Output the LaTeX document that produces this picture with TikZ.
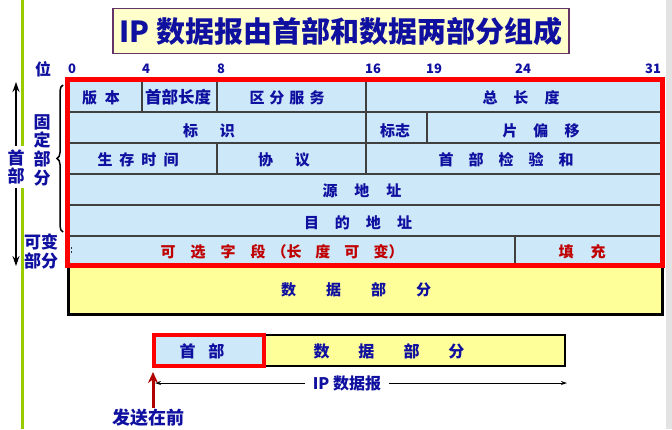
\documentclass[tikz,border=0pt]{standalone}
\usepackage{fontspec}
\setmainfont{Noto Sans CJK SC}
\usepackage{xcolor}
\usetikzlibrary{arrows.meta,decorations.pathreplacing}

\definecolor{txtblue}{RGB}{16,16,160}
\definecolor{txtred}{RGB}{192,0,0}
\definecolor{cellblue}{RGB}{204,232,249}
\definecolor{datayellow}{RGB}{255,255,153}
\definecolor{titleyellow}{RGB}{255,255,204}
\definecolor{titleframe}{RGB}{102,51,102}
\definecolor{slidegreen}{RGB}{153,204,0}
\definecolor{sendred}{RGB}{176,0,0}

% gap between spaced characters
\newcommand{\gp}[1]{\hspace{#1pt}}

\begin{document}
\begin{tikzpicture}[
    x=1pt, y=-1pt,
    title/.style={draw=titleframe, line width=1.2pt, fill=titleyellow,
                  minimum width=456pt, minimum height=45pt,
                  font=\fontsize{29}{32}\selectfont\bfseries, text=txtblue},
    field/.style={font=\fontsize{15}{18}\selectfont\bfseries, text=txtblue, inner sep=0pt},
    optfield/.style={field, text=txtred},
    bit/.style={font=\fontsize{13}{15}\selectfont\bfseries, text=txtblue, inner sep=0pt},
    side/.style={font=\fontsize{17}{18.7}\selectfont\bfseries, text=txtblue,
                 align=center, inner sep=0pt},
    sep/.style={line width=1.2pt, black!75},
    hdrframe/.style={draw=red, line width=5pt},
    sidearrow/.style={-{Stealth[length=10pt, width=7pt]}, line width=1.6pt},
    dimarrow/.style={-{Stealth[length=6pt, width=4pt]}, line width=0.9pt},
    sendarrow/.style={-{Stealth[length=11pt, width=10pt]}, line width=3pt, sendred}
]

\useasboundingbox (0,0) rectangle (672,429);

% -------------------------------------------------
% Slide decoration
% -------------------------------------------------

\draw[slidegreen, line width=3pt] (22.5,0) -- (22.5,429);
\fill[gray!22] (666,0) rectangle (672,429);

% -------------------------------------------------
% Title
% -------------------------------------------------

\node[title] (title) at (341,31) {IP 数据报由首部和数据两部分组成};

% -------------------------------------------------
% Bit positions
% -------------------------------------------------

\node[bit, font=\fontsize{16}{18}\selectfont\bfseries] (wei) at (43,69) {位};

\foreach \b/\x in {0/72,4/146,8/221,16/373,19/434,24/523,31/653}{
    \node[bit] (b\b) at (\x,69) {\b};
}

% -------------------------------------------------
% Data part
% -------------------------------------------------

\draw[fill=datayellow, line width=3pt] (68,265) rectangle (662,314);
\node[field] (data) at (356,290) {数\gp{30}据\gp{30}部\gp{30}分};

% -------------------------------------------------
% Header table
% -------------------------------------------------

\fill[cellblue] (67.5,79.5) rectangle (662.5,265);

\foreach \y in {112,143,174,205,236}{
    \draw[sep] (67.5,\y) -- (662.5,\y);
}

% row 1
\draw[sep] (142,79.5) -- (142,112);
\draw[sep] (217,79.5) -- (217,112);
\draw[sep] (366,79.5) -- (366,112);
% row 2
\draw[sep] (366,112) -- (366,143);
\draw[sep] (427,112) -- (427,143);
% row 3
\draw[sep] (217,143) -- (217,174);
\draw[sep] (366,143) -- (366,174);
% row 6
\draw[sep] (515,236) -- (515,265);

% vertical dots at the ends of the options row
\fill[black!80] (70.5,247) rectangle ++(1.6,1.6);
\fill[black!80] (70.5,251) rectangle ++(1.6,1.6);
\fill[black!80] (660,249) rectangle ++(1.6,1.6);
\fill[black!80] (660,253) rectangle ++(1.6,1.6);

\node[field] (ver)   at (101,97.5)  {版\gp{8}本};
\node[field, font=\fontsize{16.5}{18}\selectfont\bfseries]
             (ihl)   at (178,97.5)  {首部长度};
\node[field] (ds)    at (287,97.5)  {区\gp{5}分\gp{5}服\gp{5}务};
\node[field] (tlen)  at (521,97.5)  {总\gp{16}长\gp{16}度};

\node[field] (ident) at (209,130.5) {标\gp{22}识};
\node[field] (flag)  at (395,130.5) {标志};
\node[field] (frag)  at (541,130.5) {片\gp{16}偏\gp{16}移};

\node[field] (ttl)   at (138,159.5) {生\gp{7}存\gp{7}时\gp{7}间};
\node[field] (proto) at (284,159.5) {协\gp{22}议};
\node[field] (csum)  at (506,159.5) {首\gp{15}部\gp{15}检\gp{15}验\gp{15}和};

\node[field] (src)   at (362,190.5) {源\gp{17}地\gp{17}址};
\node[field] (dst)   at (358,222.5) {目\gp{16}的\gp{16}地\gp{16}址};

\node[optfield] (opt) at (282,251.5)
  {可\gp{15}选\gp{15}字\gp{15}段\gp{6}（长\gp{14}度\gp{14}可\gp{14}变）};
\node[optfield] (pad) at (582,251.5) {填\gp{17}充};

\draw[hdrframe] (67.5,79.5) rectangle (662.5,265);

% -------------------------------------------------
% Left annotations
% -------------------------------------------------

\node[side, fill=white, inner ysep=3pt] (hdrside) at (16,167) {首\\部};
\coordinate (hdrtop) at (16,82);
\coordinate (hdrbot) at (16,266);
\draw[sidearrow] (hdrside) -- (hdrtop);
\draw[sidearrow] (hdrside) -- (hdrbot);

\node[side] (fixed) at (42,150) {固\\定\\部\\分};
\node[side, font=\fontsize{17}{19}\selectfont\bfseries] (var) at (41,251.5) {可变\\部分};

\draw[line width=1.5pt, decorate, decoration={brace, amplitude=6pt}]
  (63,232) -- (63,85);

% -------------------------------------------------
% Datagram order
% -------------------------------------------------

\node[draw=black, line width=1.2pt, fill=datayellow, minimum width=301pt,
      minimum height=31pt, inner sep=0pt] (dbox) at (414.5,350.5) {};
\node[draw=red, line width=3.5pt, fill=cellblue, minimum width=110pt,
      minimum height=31pt, inner sep=0pt] (hbox) at (209,350.5) {};

\node[field, font=\fontsize{16}{18}\selectfont\bfseries] (hlabel) at (202,351) {首\gp{13}部};
\node[field, font=\fontsize{16}{18}\selectfont\bfseries] (dlabel) at (389,351)
  {数\gp{29}据\gp{29}部\gp{29}分};

\node[field, font=\fontsize{16}{18}\selectfont\bfseries, inner xsep=8pt] (ipd) at (347,383) {IP 数据报};
\coordinate (ipl) at (155,383);
\coordinate (ipr) at (567,383);
\draw[dimarrow] (ipd) -- (ipl);
\draw[dimarrow] (ipd) -- (ipr);

\node[field, font=\fontsize{18}{20}\selectfont\bfseries, inner sep=1pt] (send) at (148,418) {发送在前};
\coordinate (sendtip) at (153,372);
\draw[sendarrow] (send.north -| sendtip) -- (sendtip);

\end{tikzpicture}
\end{document}
